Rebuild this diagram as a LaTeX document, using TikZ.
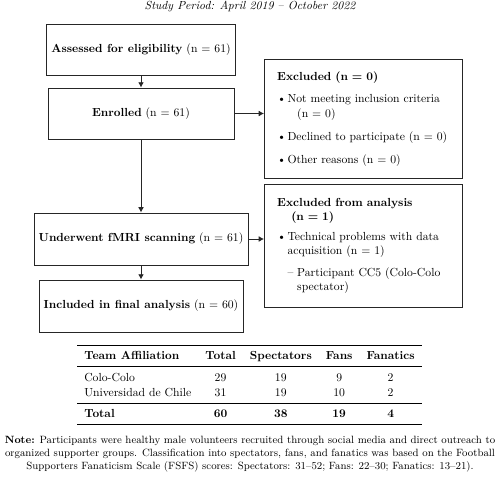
\documentclass[tikz,border=0pt]{standalone}
\usepackage{booktabs}
\usetikzlibrary{arrows.meta}
\begin{document}
\begin{tikzpicture}[x=0.855pt,y=-0.855pt,
  box/.style={draw=black!85, line width=0.8pt, inner sep=3.33pt, align=center},
  exbox/.style={draw=black!85, line width=0.8pt, inner xsep=10.9pt, inner ysep=0pt,
    text width=147.5pt, align=left, minimum width=169.3pt, anchor=north west},
  arr/.style={draw=black!85, line width=0.8pt, -{Latex[length=4.5pt,width=5pt]}}]
\useasboundingbox (0,0) rectangle (500,477);
\node (title) at (250,6.5) {\itshape Study Period: April 2019 -- October 2022};
\node[box, minimum width=161.6pt, minimum height=43.6pt] (A) at (141,49.5) {\textbf{Assessed for eligibility} (n = 61)};
\node[box, minimum width=159pt, minimum height=43.6pt] (B) at (141,113.5) {\textbf{Enrolled} (n = 61)};
\node[box, minimum width=183pt, minimum height=44.5pt] (C) at (141,239) {\textbf{Underwent fMRI scanning} (n = 61)};
\node[box, minimum width=174.4pt, minimum height=44.5pt] (D) at (141,306) {\textbf{Included in final analysis} (n = 60)};
\node[exbox, minimum height=101.7pt] (E1) at (264,59) {%
\textbf{Excluded (n = 0)}\\[7.5pt]
\mbox{\makebox[8.8pt][l]{\textbullet}Not meeting inclusion criteria}\\[0.5pt]
\mbox{\hspace*{17.1pt}(n = 0)}\\[8pt]
\mbox{\makebox[8.8pt][l]{\textbullet}Declined to participate (n = 0)}\\[7.5pt]
\mbox{\makebox[8.8pt][l]{\textbullet}Other reasons (n = 0)}};
\node[exbox, minimum height=105.2pt] (E2) at (264,184) {%
\textbf{Excluded from analysis}\\
\mbox{\hspace*{12pt}\textbf{(n = 1)}}\\[5pt]
\mbox{\makebox[8.8pt][l]{\textbullet}Technical problems with data}\\
\mbox{\hspace*{8.8pt}acquisition (n = 1)}\\[6.5pt]
\mbox{\hspace*{8.8pt}\makebox[8.3pt][l]{--}Participant CC5 (Colo-Colo}\\
\mbox{\hspace*{17.1pt}spectator)}};
\node (T) at (249.5,385) {\renewcommand{\arraystretch}{1.1}%
\begin{tabular}{lcccc}
\toprule
\textbf{Team Affiliation} & \textbf{Total} & \textbf{Spectators} & \textbf{Fans} & \textbf{Fanatics}\\
\midrule
Colo-Colo & 29 & 19 & 9 & 2\\
Universidad de Chile & 31 & 19 & 10 & 2\\
\midrule
\textbf{Total} & \textbf{60} & \textbf{38} & \textbf{19} & \textbf{4}\\
\bottomrule
\end{tabular}};
\node[align=center, font=\small, inner sep=0pt] (N) at (250,454) {\textbf{Note:} Participants were healthy male volunteers recruited through social media and direct outreach to\\
organized supporter groups. Classification into spectators, fans, and fanatics was based on the Football\\
Supporters Fanaticism Scale (FSFS) scores: Spectators: 31--52; Fans: 22--30; Fanatics: 13--21).};
\draw[arr] (A.south) -- (B.north);
\draw[arr] (B.south) -- (C.north);
\draw[arr] (C.south) -- (D.north);
\draw[arr] (B.east) -- (B.east -| E1.west);
\draw[arr] (C.east) -- (C.east -| E2.west);
\end{tikzpicture}
\end{document}
